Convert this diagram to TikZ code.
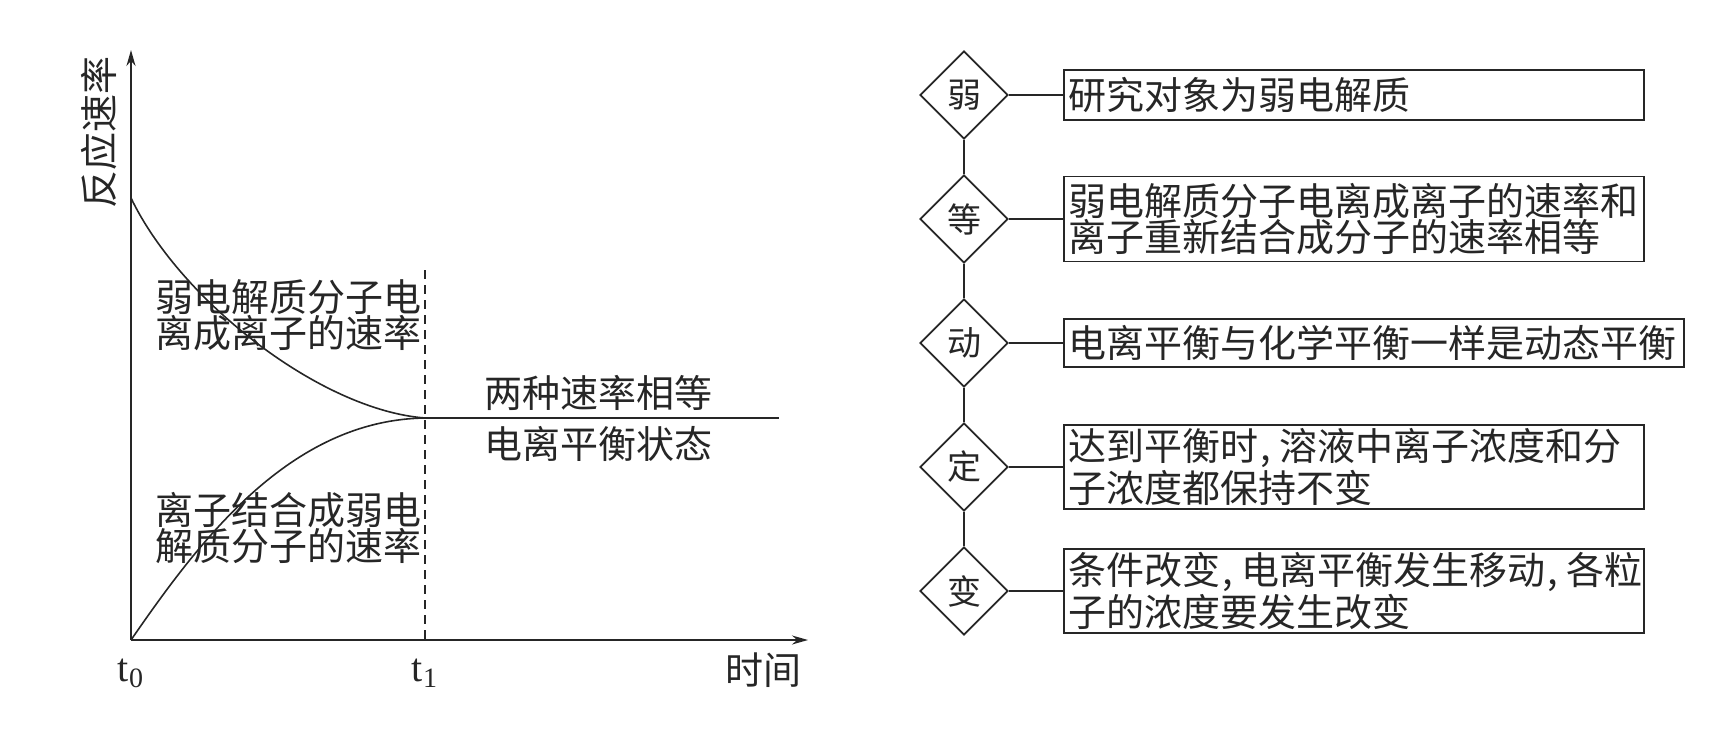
\documentclass[tikz,border=0pt]{standalone}
\usepackage{fontspec}
\setmainfont{Liberation Serif}
\newfontfamily\cjk{Noto Sans CJK SC}
\usetikzlibrary{shapes.geometric,arrows.meta}
\begin{document}
\begin{tikzpicture}[x=0.5pt,y=-0.5pt,
  axis/.style={line width=1pt, draw=black!85, -{Stealth[length=8pt,width=4.5pt]}},
  curve/.style={line width=0.8pt, draw=black!85},
  lbl/.style={font=\cjk\fontsize{19}{18}\selectfont, text=black!85, inner sep=0pt, align=left},
  dia/.style={diamond, draw=black!85, line width=0.9pt, minimum width=44pt, minimum height=44pt, inner sep=0pt, font=\cjk\fontsize{17}{17}\selectfont, text=black!85},
  infobox/.style={draw=black!85, line width=0.9pt, inner xsep=2.5pt, inner ysep=0pt, anchor=west, align=left, font=\cjk\fontsize{19}{18}\selectfont, text=black!85},
  link/.style={line width=0.9pt, draw=black!85}]
\useasboundingbox (0,0) rectangle (1716,728);
% ---- left chart ----
\coordinate (O) at (131,640);
\coordinate (ytip) at (131,50);
\coordinate (xtip) at (808,640);
\coordinate (ustart) at (131,198);
\coordinate (meet) at (425,418);
\coordinate (dtop) at (425,270);
\coordinate (dbot) at (425,640);
\coordinate (hend) at (779,418);
\draw[axis] (O) -- (ytip);
\draw[axis] (O) -- (xtip);
\draw[curve] (ustart) .. controls (180,300) and (320,410) .. (meet);
\draw[curve] (O) .. controls (200,540) and (290,420) .. (meet);
\draw[curve] (meet) -- (hend);
\draw[line width=0.8pt, draw=black!85, dash pattern=on 4.5pt off 3pt] (dtop) -- (dbot);
\node[lbl, rotate=90] (ylab) at (99,132) {反应速率};
\node[lbl, anchor=west] (la) at (155,315) {弱电解质分子电\\离成离子的速率};
\node[lbl, anchor=west] (lb1) at (484,393) {两种速率相等};
\node[lbl, anchor=west] (lb2) at (484,444) {电离平衡状态};
\node[lbl, anchor=west] (lc) at (155,528) {离子结合成弱电\\解质分子的速率};
\node[font=\fontsize{20}{20}\selectfont, text=black!85, inner sep=0pt] (t0) at (131,673) {t\textsubscript{0}};
\node[font=\fontsize{20}{20}\selectfont, text=black!85, inner sep=0pt] (t1) at (425,673) {t\textsubscript{1}};
\node[lbl] (time) at (763,670) {时间};
% ---- right chart ----
\node[dia] (d1) at (964,95) {弱};
\node[dia] (d2) at (964,219) {等};
\node[dia] (d3) at (964,343) {动};
\node[dia] (d4) at (964,467) {定};
\node[dia] (d5) at (964,591) {变};
\node[infobox, text width=285pt, minimum height=25pt] (r1) at (1063,95) {研究对象为弱电解质};
\node[infobox, text width=285pt, minimum height=42.5pt] (r2) at (1063,219) {弱电解质分子电离成离子的速率和\\离子重新结合成分子的速率相等};
\node[infobox, text width=305pt, minimum height=24pt] (r3) at (1063,343) {电离平衡与化学平衡一样是动态平衡};
\node[infobox, text width=285pt, minimum height=42pt] (r4) at (1063,467) {达到平衡时\kern1pt,\kern4pt溶液中离子浓度和分\\子浓度都保持不变};
\node[infobox, text width=285pt, minimum height=42pt] (r5) at (1063,591) {条件改变\kern1pt,\kern4pt电离平衡发生移动\kern1pt,\kern4pt各粒\\子的浓度要发生改变};
\draw[link] (d1.south) -- (d2.north);
\draw[link] (d2.south) -- (d3.north);
\draw[link] (d3.south) -- (d4.north);
\draw[link] (d4.south) -- (d5.north);
\draw[link] (d1.east) -- (r1.west);
\draw[link] (d2.east) -- (r2.west);
\draw[link] (d3.east) -- (r3.west);
\draw[link] (d4.east) -- (r4.west);
\draw[link] (d5.east) -- (r5.west);
\end{tikzpicture}
\end{document}
